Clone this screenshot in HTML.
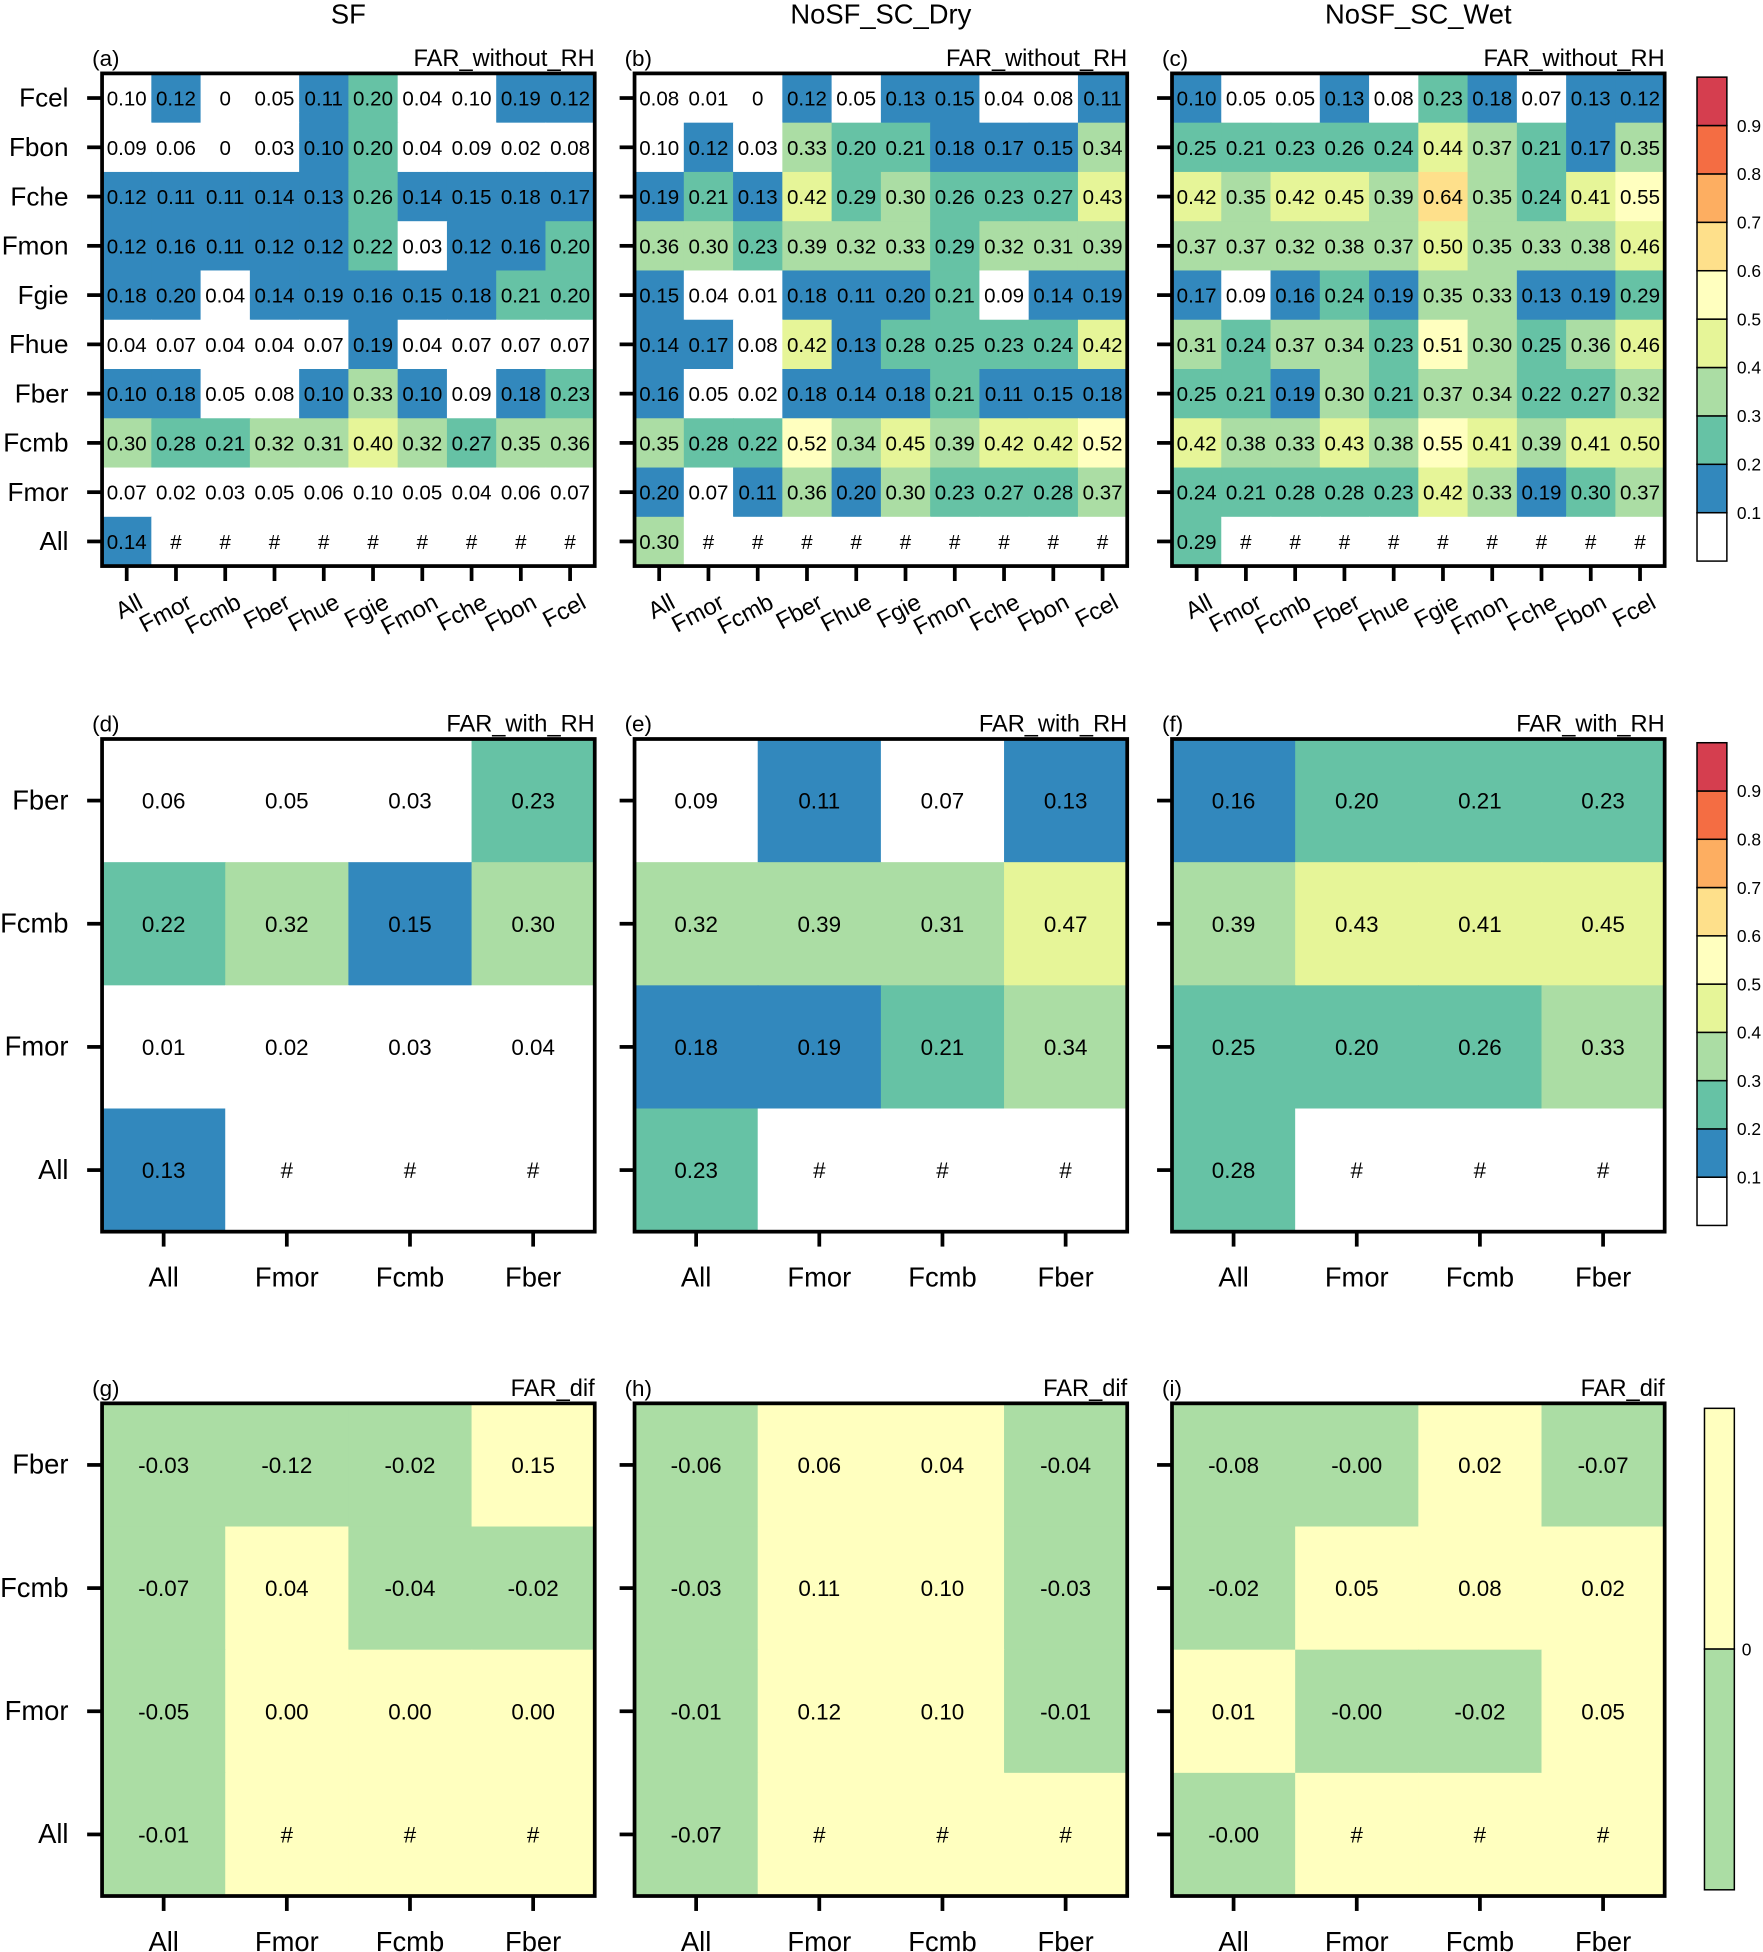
<!DOCTYPE html>
<html><head><meta charset="utf-8"><style>
html,body{margin:0;padding:0;background:#fff}
svg{display:block;font-family:"Liberation Sans",sans-serif}
</style></head><body>
<svg id="fig" width="1763" height="1952" viewBox="0 0 1417 1569" xmlns="http://www.w3.org/2000/svg"></svg>
<script>
// ---- data ----
const bigRows = ["Fcel","Fbon","Fche","Fmon","Fgie","Fhue","Fber","Fcmb","Fmor","All"];
const bigCols = ["All","Fmor","Fcmb","Fber","Fhue","Fgie","Fmon","Fche","Fbon","Fcel"];
const smallRows = ["Fber","Fcmb","Fmor","All"];
const smallCols = ["All","Fmor","Fcmb","Fber"];
const colTitles = ["SF","NoSF_SC_Dry","NoSF_SC_Wet"];
const cbTicks = [0.1,0.2,0.3,0.4,0.5,0.6,0.7,0.8,0.9];
const cbColors = ["#ffffff","#3288bd","#66c2a5","#abdda4","#e6f598","#ffffbf","#fee08b","#fdae61","#f46d43","#d53e4f"];
const difColors = ["#abdda4","#ffffbf"];
const N = null;
const farA = [
 [0.098,0.12,0,0.05,0.11,0.20,0.04,0.098,0.19,0.12],
 [0.09,0.06,0,0.03,0.10,0.20,0.04,0.09,0.02,0.08],
 [0.12,0.11,0.11,0.14,0.13,0.26,0.14,0.15,0.18,0.17],
 [0.12,0.16,0.11,0.12,0.12,0.22,0.03,0.12,0.16,0.20],
 [0.18,0.198,0.04,0.14,0.19,0.16,0.15,0.18,0.21,0.20],
 [0.04,0.07,0.04,0.04,0.07,0.19,0.04,0.07,0.07,0.07],
 [0.10,0.18,0.05,0.08,0.10,0.33,0.10,0.09,0.18,0.23],
 [0.30,0.28,0.21,0.32,0.31,0.40,0.32,0.27,0.35,0.36],
 [0.07,0.02,0.03,0.05,0.06,0.098,0.05,0.04,0.06,0.07],
 [0.14,N,N,N,N,N,N,N,N,N]];
const farB = [
 [0.08,0.01,0,0.12,0.05,0.13,0.15,0.04,0.08,0.11],
 [0.098,0.12,0.03,0.33,0.20,0.21,0.18,0.17,0.15,0.34],
 [0.19,0.21,0.13,0.42,0.29,0.30,0.26,0.23,0.27,0.43],
 [0.36,0.30,0.23,0.39,0.32,0.33,0.29,0.32,0.31,0.39],
 [0.15,0.04,0.01,0.18,0.11,0.198,0.21,0.09,0.14,0.19],
 [0.14,0.17,0.08,0.42,0.13,0.28,0.25,0.23,0.24,0.42],
 [0.16,0.05,0.02,0.18,0.14,0.18,0.21,0.11,0.15,0.18],
 [0.35,0.28,0.22,0.52,0.34,0.45,0.39,0.42,0.42,0.52],
 [0.198,0.07,0.11,0.36,0.198,0.30,0.23,0.27,0.28,0.37],
 [0.30,N,N,N,N,N,N,N,N,N]];
const farC = [
 [0.10,0.05,0.05,0.13,0.08,0.23,0.18,0.07,0.13,0.12],
 [0.25,0.21,0.23,0.26,0.24,0.44,0.37,0.21,0.17,0.35],
 [0.42,0.35,0.42,0.45,0.39,0.64,0.35,0.24,0.41,0.55],
 [0.37,0.37,0.32,0.38,0.37,0.498,0.35,0.33,0.38,0.46],
 [0.17,0.09,0.16,0.24,0.19,0.35,0.33,0.13,0.19,0.29],
 [0.31,0.24,0.37,0.34,0.23,0.51,0.30,0.25,0.36,0.46],
 [0.25,0.21,0.19,0.30,0.21,0.37,0.34,0.22,0.27,0.32],
 [0.42,0.38,0.33,0.43,0.38,0.55,0.41,0.39,0.41,0.498],
 [0.24,0.21,0.28,0.28,0.23,0.42,0.33,0.19,0.298,0.37],
 [0.29,N,N,N,N,N,N,N,N,N]];
const rhD = [[0.06,0.05,0.03,0.23],[0.22,0.32,0.15,0.30],[0.01,0.02,0.03,0.04],[0.13,N,N,N]];
const rhE = [[0.09,0.11,0.07,0.13],[0.32,0.39,0.31,0.47],[0.18,0.19,0.21,0.34],[0.23,N,N,N]];
const rhF = [[0.16,0.20,0.21,0.23],[0.39,0.43,0.41,0.45],[0.25,0.20,0.26,0.33],[0.28,N,N,N]];
const difG = [[-0.03,-0.12,-0.02,0.15],[-0.07,0.04,-0.04,-0.02],[-0.05,0.001,0.001,0.001],[-0.01,N,N,N]];
const difH = [[-0.06,0.06,0.04,-0.04],[-0.03,0.11,0.10,-0.03],[-0.01,0.12,0.10,-0.01],[-0.07,N,N,N]];
const difI = [[-0.08,-0.001,0.02,-0.07],[-0.02,0.05,0.08,0.02],[0.01,-0.001,-0.02,0.05],[-0.001,N,N,N]];

// ---- drawing ----
const NS="http://www.w3.org/2000/svg", svg=document.getElementById('fig');
function mk(tag,attrs,parent){const e=document.createElementNS(NS,tag);for(const k in attrs)e.setAttribute(k,attrs[k]);(parent||svg).appendChild(e);return e;}
function txt(s,x,y,size,anchor,parent){const t=mk('text',{x:x,y:y,'font-size':size,'text-anchor':anchor||'middle',fill:'#000'},parent);t.textContent=s;return t;}
function binColor(v){const i=Math.max(0,Math.min(9,Math.floor(v*10+1e-9)));return cbColors[i];}
function difColor(v){return v<0?difColors[0]:difColors[1];}
function fmt(v,isDif){if(!isDif&&v===0)return "0";return v.toFixed(2);}

const boxX=[82,510,942], rowY=[59,594,1128], S=396;
const letters=[["(a)","(b)","(c)"],["(d)","(e)","(f)"],["(g)","(h)","(i)"]];
const rTitles=["FAR_without_RH","FAR_with_RH","FAR_dif"];
const grids=[[farA,farB,farC],[rhD,rhE,rhF],[difG,difH,difI]];

colTitles.forEach((t,i)=>{
  const e=txt(t,boxX[i]+S/2,19,22);
  
  
});

for(let r=0;r<3;r++){
  const rows=r===0?bigRows:smallRows, cols=r===0?bigCols:smallCols, isDif=r===2;
  const n=rows.length, cw=S/n;
  for(let p=0;p<3;p++){
    const x0=boxX[p], y0=rowY[r], data=grids[r][p];
    const g=mk('g',{});
    
    
    const lt=txt(letters[r][p],x0-8,y0-6,18,'start',g);
    
    
    const rt=txt(rTitles[r],x0+S,y0-6,19,'end',g);
    
    
    for(let i=0;i<n;i++)for(let j=0;j<n;j++){
      const v=data[i][j];
      const fill=v===null?(isDif?difColors[1]:'#ffffff'):(isDif?difColor(v):binColor(v));
      const c=mk('rect',{x:x0+j*cw,y:y0+i*cw,width:cw+0.6,height:cw+0.6,fill:fill},g);
      
      
      const t=txt(v===null?'#':fmt(v,isDif),x0+(j+0.5)*cw,y0+(i+0.5)*cw+(r===0?6:6.5),r===0?16.5:18,'middle',g);
      
      
    }
    const b=mk('rect',{x:x0,y:y0,width:S,height:S,fill:'none',stroke:'#000','stroke-width':3},g);
    
    
    for(let i=0;i<n;i++){
      const yy=y0+(i+0.5)*cw;
      mk('line',{x1:x0-12,y1:yy,x2:x0,y2:yy,stroke:'#000','stroke-width':3},g);
      if(p===0){const t=txt(rows[i],x0-27,yy+7,r===0?21:22,'end',g);
        
        }
    }
    for(let j=0;j<n;j++){
      const xx=x0+(j+0.5)*cw;
      mk('line',{x1:xx,y1:y0+S,x2:xx,y2:y0+S+12,stroke:'#000','stroke-width':3},g);
      let t;
      if(r===0){const ax=xx+14, ay=y0+S+33;
        t=txt(cols[j],ax,ay,19,'end',g);t.setAttribute('transform','rotate(-28 '+ax+' '+ay+')');}
      else t=txt(cols[j],xx,y0+S+44,22,'middle',g);
      
      
    }
  }
  // colorbars
  const cg=mk('g',{});
  
  
  if(!isDif){
    const cx=1364,cy=r===0?62:597,ch=r===0?389:388,bh=ch/10;
    for(let k=0;k<10;k++){
      const s=mk('rect',{x:cx,y:cy+ch-(k+1)*bh,width:24,height:bh,fill:cbColors[k],stroke:'#000','stroke-width':1.2},cg);
      
      
    }
    cbTicks.forEach(v=>{const t=txt(v.toFixed(1),1396,cy+ch-(v*10)*bh+5,14,'start',cg);
      
      });
  } else {
    const cx=1370,cy=1132,ch=387;
    const s1=mk('rect',{x:cx,y:cy,width:24,height:ch/2,fill:difColors[1],stroke:'#000','stroke-width':1.2},cg);
    
    
    const s2=mk('rect',{x:cx,y:cy+ch/2,width:24,height:ch/2,fill:difColors[0],stroke:'#000','stroke-width':1.2},cg);
    
    
    const t=txt('0',1400,cy+ch/2+5,14,'start',cg);
    
    
  }
}
</script>
</body></html>
